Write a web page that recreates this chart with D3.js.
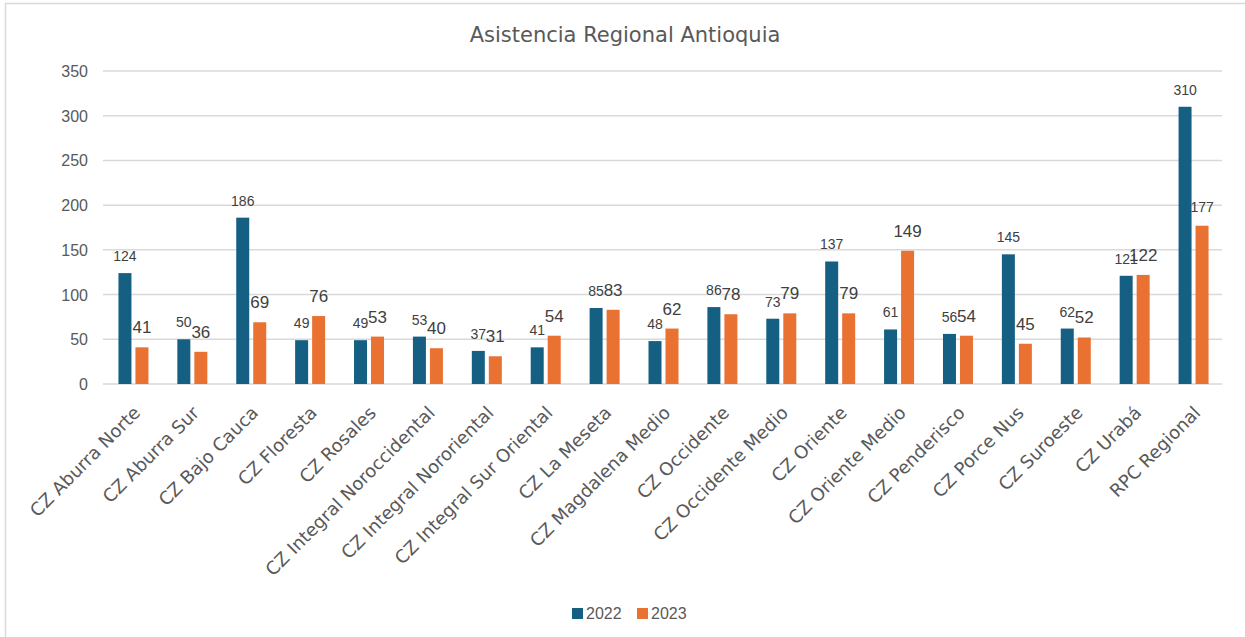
<!DOCTYPE html>
<html>
<head>
<meta charset="utf-8">
<script src="https://cdn.jsdelivr.net/npm/d3@7"></script>
<style>
  body { margin: 0; background: #fff; }
  svg { display: block; }
</style>
</head>
<body>
<div id="chart"></div>
<script>
// data
const categories = [
  "CZ Aburra Norte", "CZ Aburra Sur", "CZ Bajo Cauca", "CZ Floresta", "CZ Rosales",
  "CZ Integral Noroccidental", "CZ Integral Nororiental", "CZ Integral Sur Oriental",
  "CZ La Meseta", "CZ Magdalena Medio", "CZ Occidente", "CZ Occidente Medio",
  "CZ Oriente", "CZ Oriente Medio", "CZ Penderisco", "CZ Porce Nus", "CZ Suroeste",
  "CZ Urabá", "RPC Regional"
];
const values2022 = [124, 50, 186, 49, 49, 53, 37, 41, 85, 48, 86, 73, 137, 61, 56, 145, 62, 121, 310];
const values2023 = [41, 36, 69, 76, 53, 40, 31, 54, 83, 62, 78, 79, 79, 149, 54, 45, 52, 122, 177];
const seriesNames = ["2022", "2023"];
const yTicks = [0, 50, 100, 150, 200, 250, 300, 350];

const width = 1245, height = 637;
const colors = ["#156082", "#E97132"];
const textColor = "#595959";
const smallFont = "Liberation Sans Narrow, Liberation Sans, Arial, sans-serif";
const bigFont = "Liberation Sans, Arial, sans-serif";

const svg = d3.select("#chart").append("svg")
  .attr("width", width)
  .attr("height", height);

// chart border (right/bottom fall outside the crop)
svg.append("rect")
  .attr("x", 5.5).attr("y", 3.5)
  .attr("width", 1300).attr("height", 700)
  .attr("fill", "none")
  .attr("stroke", "#d9d9d9")
  .attr("stroke-width", 1.5);

svg.append("text")
  .attr("x", 625).attr("y", 42)
  .attr("text-anchor", "middle")
  .attr("font-family", "DejaVu Sans")
  .attr("font-size", 21)
  .attr("fill", textColor)
  .text("Asistencia Regional Antioquia");

const x = d3.scaleBand().domain(categories).range([104, 1223]);
const y = d3.scaleLinear().domain([0, 350]).range([384, 71]);

// gridlines
svg.append("g")
  .selectAll("line")
  .data(yTicks)
  .join("line")
  .attr("x1", 103).attr("x2", 1222)
  .attr("y1", d => y(d)).attr("y2", d => y(d))
  .attr("stroke", "#d9d9d9")
  .attr("stroke-width", 1.5);

// y axis labels
svg.append("g")
  .selectAll("text")
  .data(yTicks)
  .join("text")
  .attr("x", 88)
  .attr("y", d => y(d) + 6)
  .attr("text-anchor", "end")
  .attr("font-family", bigFont)
  .attr("font-size", 16)
  .attr("fill", textColor)
  .text(d => d);

const barW = 13, gap = 4;
const rows = categories.map((c, i) => ({ c, v: [values2022[i], values2023[i]] }));

const group = svg.append("g")
  .selectAll("g")
  .data(rows)
  .join("g")
  .attr("transform", d => `translate(${x(d.c) + x.bandwidth() / 2},0)`);

seriesNames.forEach((s, k) => {
  const bx = k === 0 ? -barW - gap / 2 : gap / 2;
  group.append("rect")
    .attr("x", bx)
    .attr("y", d => y(d.v[k]))
    .attr("width", barW)
    .attr("height", d => y(0) - y(d.v[k]))
    .attr("fill", colors[k]);

  // labels: 2022 small, 2023 larger (except the last one)
  const small = d => k === 0 || d.c === "RPC Regional";
  group.append("text")
    .attr("x", bx + barW / 2)
    .attr("y", d => y(d.v[k]) - (k === 0 ? 12 : 14))
    .attr("text-anchor", "middle")
    .attr("font-family", d => small(d) ? smallFont : bigFont)
    .attr("font-size", d => small(d) ? 14 : 17)
    .attr("fill", "#404040")
    .text(d => d.v[k]);
});

// category labels
svg.append("g")
  .selectAll("text")
  .data(categories)
  .join("text")
  .attr("transform", d => `translate(${x(d) + x.bandwidth() / 2 + 8},${414}) rotate(-45)`)
  .attr("text-anchor", "end")
  .attr("font-family", "DejaVu Sans")
  .attr("font-size", 18)
  .attr("fill", textColor)
  .text(d => d);

// legend
const legend = svg.append("g");
const legendX = [572, 637];
seriesNames.forEach((s, k) => {
  legend.append("rect")
    .attr("x", legendX[k]).attr("y", 608)
    .attr("width", 11).attr("height", 11)
    .attr("fill", colors[k]);
  legend.append("text")
    .attr("x", legendX[k] + 14).attr("y", 619)
    .attr("font-family", bigFont)
    .attr("font-size", 16)
    .attr("fill", textColor)
    .text(s);
});
</script>
</body>
</html>
